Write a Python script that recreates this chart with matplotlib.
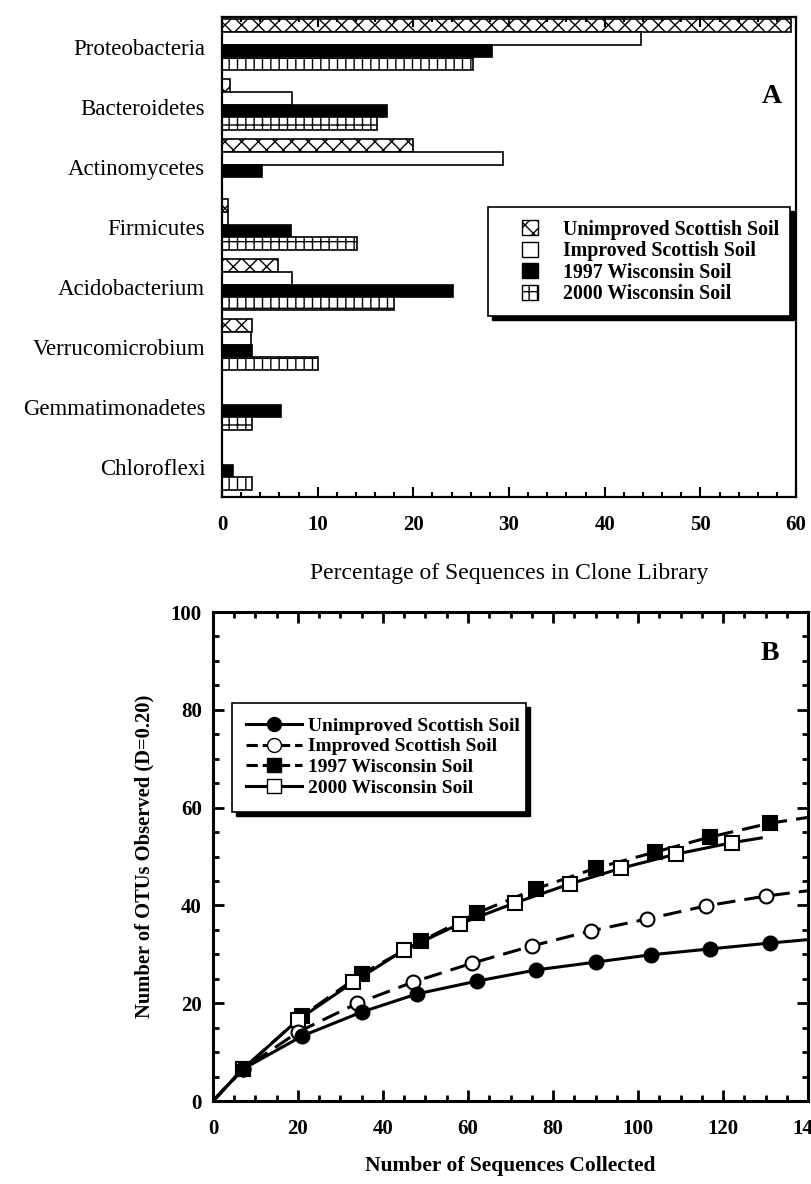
import numpy as np
import matplotlib
matplotlib.use('Agg')
import matplotlib.pyplot as plt
from matplotlib.patches import Patch, Rectangle
from matplotlib.lines import Line2D
from matplotlib.ticker import MultipleLocator

plt.rcParams['font.family'] = ['Liberation Serif', 'DejaVu Serif']
plt.rcParams['hatch.linewidth'] = 1.0

# ---- panel A data ----
phyla = ['Proteobacteria', 'Bacteroidetes', 'Actinomycetes', 'Firmicutes',
         'Acidobacterium', 'Verrucomicrobium', 'Gemmatimonadetes', 'Chloroflexi']
soils = ['Unimproved Scottish Soil', 'Improved Scottish Soil',
         '1997 Wisconsin Soil', '2000 Wisconsin Soil']
unimproved = [59.5, 0.8, 20.0, 0.6, 5.9, 3.1, 0.0, 0.0]
improved = [43.8, 7.3, 29.4, 0.6, 7.3, 3.0, 0.0, 0.0]
wis1997 = [28.2, 17.2, 4.2, 7.2, 24.1, 3.1, 6.2, 1.1]
wis2000 = [26.2, 16.2, 0.0, 14.1, 18.0, 10.0, 3.1, 3.1]

# ---- panel B data ----
x_unimp = [0, 7, 21, 35, 48, 62, 76, 90, 103, 117, 131, 140]
y_unimp = [0, 6.5, 13.3, 18.2, 21.9, 24.5, 26.8, 28.4, 29.9, 31.1, 32.3, 33.0]
x_imp = [0, 7, 20, 34, 47, 61, 75, 89, 102, 116, 130, 140]
y_imp = [0, 6.5, 14.1, 20.0, 24.3, 28.2, 31.7, 34.8, 37.2, 39.9, 41.9, 43.0]
x_w97 = [0, 7, 21, 35, 49, 62, 76, 90, 104, 117, 131, 140]
y_w97 = [0, 6.5, 17.4, 26.0, 32.7, 38.4, 43.4, 47.6, 50.9, 54.0, 56.8, 58.0]
x_w00 = [0, 7, 20, 33, 45, 58, 71, 84, 96, 109, 122, 129]
y_w00 = [0, 6.5, 16.6, 24.3, 30.9, 36.2, 40.5, 44.4, 47.6, 50.5, 52.8, 53.8]


def shadow_box(ax, x0, y0, x1, y1, dx, dy):
    # legend frame with a solid black drop shadow, in axes fractions
    ax.add_patch(Rectangle((x0 + dx, y0 - dy), x1 - x0, y1 - y0, transform=ax.transAxes,
                           facecolor='black', edgecolor='black', zorder=5, clip_on=False))
    ax.add_patch(Rectangle((x0, y0), x1 - x0, y1 - y0, transform=ax.transAxes,
                           facecolor='white', edgecolor='black', linewidth=1.2,
                           zorder=6, clip_on=False))


fig = plt.figure(figsize=(8.12, 11.84), dpi=100)

# ================= Panel A =================
axA = fig.add_axes([0.2734, 0.5802, 0.707, 0.4054])
pos = np.arange(len(phyla))
h = 0.21
styles = [dict(facecolor='white', hatch='xx'),
          dict(facecolor='white'),
          dict(facecolor='black'),
          dict(facecolor='white', hatch='+|')]
series = [unimproved, improved, wis1997, wis2000]
for i, (vals, st) in enumerate(zip(series, styles)):
    axA.barh(pos + (i - 1.5) * h - 0.04, vals, height=h, edgecolor='black',
             linewidth=1.2, **st)

axA.set_xlim(0, 60)
axA.set_ylim(7.5, -0.5)
axA.set_yticks(pos)
axA.set_yticklabels(phyla, fontsize=16.5)
axA.tick_params(axis='y', length=0, pad=12)
axA.xaxis.set_major_locator(MultipleLocator(10))
axA.xaxis.set_minor_locator(MultipleLocator(2))
axA.tick_params(axis='x', which='both', direction='in', top=True, width=1.5)
axA.tick_params(axis='x', which='major', length=7, labelsize=15, pad=13)
axA.tick_params(axis='x', which='minor', length=3.5)
for lab in axA.get_xticklabels():
    lab.set_fontweight('bold')
for sp in axA.spines.values():
    sp.set_linewidth(1.6)
axA.set_xlabel('Percentage of Sequences in Clone Library', fontsize=17, labelpad=20)
axA.text(0.958, 0.835, 'A', transform=axA.transAxes, fontsize=20,
         fontweight='bold', ha='center', va='center')

shadow_box(axA, 0.463, 0.377, 0.990, 0.604, 0.0065, 0.008)
handlesA = [Patch(edgecolor='black', label=s, linewidth=1.0, **st)
            for s, st in zip(soils, styles)]
legA = axA.legend(handles=handlesA, loc='upper left', bbox_to_anchor=(0.523, 0.578),
                  prop={'weight': 'bold', 'size': 14.3}, frameon=False,
                  handlelength=0.8, handleheight=0.8, handletextpad=1.25,
                  borderpad=0, labelspacing=0.08, borderaxespad=0)
legA.set_zorder(7)

# ================= Panel B =================
axB = fig.add_axes([0.2623, 0.0701, 0.7328, 0.413])
kw = dict(color='black', linewidth=2.2, markersize=10, markevery=slice(1, -1),
          markeredgewidth=1.5, markeredgecolor='black')
axB.plot(x_w97, y_w97, '--', marker='s', markerfacecolor='black', dashes=(6, 3), **kw)
axB.plot(x_w00, y_w00, '-', marker='s', markerfacecolor='white', **kw)
axB.plot(x_imp, y_imp, '--', marker='o', markerfacecolor='white', dashes=(6, 3), **kw)
axB.plot(x_unimp, y_unimp, '-', marker='o', markerfacecolor='black', **kw)

axB.set_xlim(0, 140)
axB.set_ylim(0, 100)
axB.xaxis.set_major_locator(MultipleLocator(20))
axB.xaxis.set_minor_locator(MultipleLocator(5))
axB.yaxis.set_major_locator(MultipleLocator(20))
axB.yaxis.set_minor_locator(MultipleLocator(5))
axB.tick_params(which='both', direction='in', top=True, right=True, width=2)
axB.tick_params(which='major', length=8, labelsize=15)
axB.tick_params(axis='x', which='major', pad=13)
axB.tick_params(axis='y', which='major', pad=8)
axB.tick_params(which='minor', length=4)
for lab in axB.get_xticklabels() + axB.get_yticklabels():
    lab.set_fontweight('bold')
for sp in axB.spines.values():
    sp.set_linewidth(2.2)
axB.set_xlabel('Number of Sequences Collected', fontsize=15.5, fontweight='bold', labelpad=12)
axB.set_ylabel('Number of OTUs Observed (D=0.20)', fontsize=14.8, fontweight='bold', labelpad=12)
axB.text(0.935, 0.915, 'B', transform=axB.transAxes, fontsize=20,
         fontweight='bold', ha='center', va='center')

shadow_box(axB, 0.032, 0.591, 0.526, 0.814, 0.0065, 0.008)
handlesB = [
    Line2D([], [], color='black', lw=2.2, ls='-', marker='o', markerfacecolor='black', markersize=10),
    Line2D([], [], color='black', lw=2.2, ls='--', marker='o', markerfacecolor='white', markersize=10),
    Line2D([], [], color='black', lw=2.2, ls='--', marker='s', markerfacecolor='black', markersize=10),
    Line2D([], [], color='black', lw=2.2, ls='-', marker='s', markerfacecolor='white', markersize=10),
]
legB = axB.legend(handles=handlesB, labels=soils, loc='upper left',
                  bbox_to_anchor=(0.055, 0.785), prop={'weight': 'bold', 'size': 14},
                  frameon=False, handlelength=2.9, handletextpad=0.3, borderpad=0,
                  labelspacing=0.16, borderaxespad=0)
legB.set_zorder(7)

fig.savefig('out.png', dpi=100)
